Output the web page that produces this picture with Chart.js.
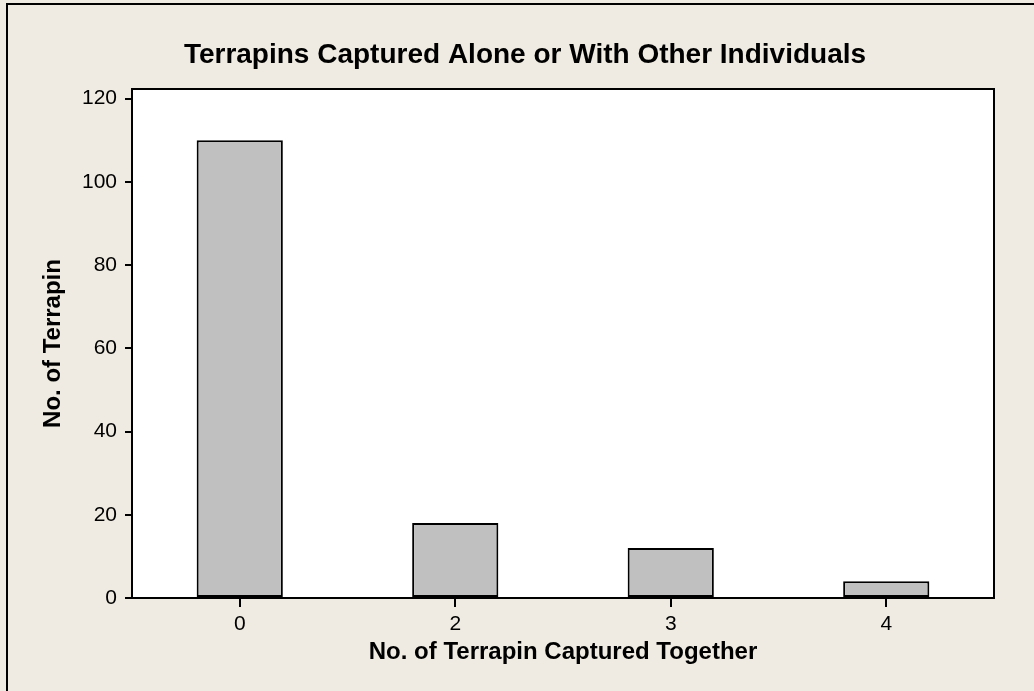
<!DOCTYPE html>
<html>
<head>
<meta charset="utf-8">
<script src="https://cdn.jsdelivr.net/npm/chart.js@4/dist/chart.umd.min.js"></script>
<style>
  html, body { margin: 0; padding: 0; background: #efebe2; }
  #wrap { width: 1034px; height: 691px; }
</style>
</head>
<body>
<div id="wrap"><canvas id="terrapin-chart"></canvas></div>
<script>
const categories = ['0', '2', '3', '4'];
const counts = [110, 18, 12, 4];
const yTicks = [0, 20, 40, 60, 80, 100, 120];

const fontFamily = 'Liberation Sans';

const pageBackground = {
  id: 'pageBackground',
  beforeDraw(chart) {
    const { ctx, width, height, chartArea: { left, top, right, bottom } } = chart;
    ctx.save();
    ctx.fillStyle = '#efebe2';
    ctx.fillRect(0, 0, width, height);
    ctx.strokeStyle = '#000';
    ctx.lineWidth = 2;
    ctx.strokeRect(7, 4, width + 20, height + 20);
    ctx.fillStyle = '#fff';
    ctx.fillRect(left, top, right - left, bottom - top);
    ctx.restore();
  },
};

const chartAreaBorder = {
  id: 'chartAreaBorder',
  afterDraw(chart) {
    const { ctx, chartArea: { left, top, width, height } } = chart;
    ctx.save();
    ctx.strokeStyle = '#000';
    ctx.lineWidth = 2;
    ctx.strokeRect(left, top, width, height);
    ctx.restore();
  },
};

const config = {
  type: 'bar',
  data: {
    labels: categories,
    datasets: [
      {
        data: counts,
        backgroundColor: '#c0c0c0',
        borderColor: '#000',
        borderWidth: 2,
        borderSkipped: false,
        categoryPercentage: 1,
        barPercentage: 0.4,
      },
    ],
  },
  options: {
    responsive: true,
    maintainAspectRatio: false,
    animation: false,
    layout: { padding: { left: 56, right: 40, top: 0, bottom: 0 } },
    plugins: {
      legend: { display: false },
      tooltip: { enabled: false },
      title: {
        display: true,
        text: 'Terrapins Captured Alone or With Other Individuals',
        color: '#000',
        font: { family: fontFamily, size: 28, weight: 'bold', lineHeight: 1.2 },
        padding: { top: 38.5, bottom: 16.9 },
      },
    },
    scales: {
      x: {
        grid: { display: true, drawOnChartArea: false, offset: false, color: '#000', lineWidth: 2, tickLength: 9 },
        border: { display: true, color: '#000', width: 2 },
        ticks: { color: '#000', padding: 5, font: { family: fontFamily, size: 21 } },
        title: {
          display: true,
          text: 'No. of Terrapin Captured Together',
          color: '#000',
          font: { family: fontFamily, size: 24, weight: 'bold', lineHeight: 1.2 },
          padding: { top: 0, bottom: 24 },
        },
        afterFit(scale) { scale.height = 93; },
      },
      y: {
        min: 0,
        max: 122.3,
        grid: { display: true, drawOnChartArea: false, color: '#000', lineWidth: 2, tickLength: 7 },
        border: { display: true, color: '#000', width: 2 },
        ticks: { color: '#000', padding: 8, font: { family: fontFamily, size: 21 } },
        afterBuildTicks(scale) { scale.ticks = yTicks.map((v) => ({ value: v })); },
        title: {
          display: true,
          text: 'No. of Terrapin',
          color: '#000',
          font: { family: fontFamily, size: 24, weight: 'bold', lineHeight: 1.2 },
          padding: { top: -17.4, bottom: 0 },
        },
        afterFit(scale) { scale.width = 76; },
      },
    },
  },
  plugins: [pageBackground, chartAreaBorder],
};

new Chart(document.getElementById('terrapin-chart').getContext('2d'), config);
</script>
</body>
</html>
